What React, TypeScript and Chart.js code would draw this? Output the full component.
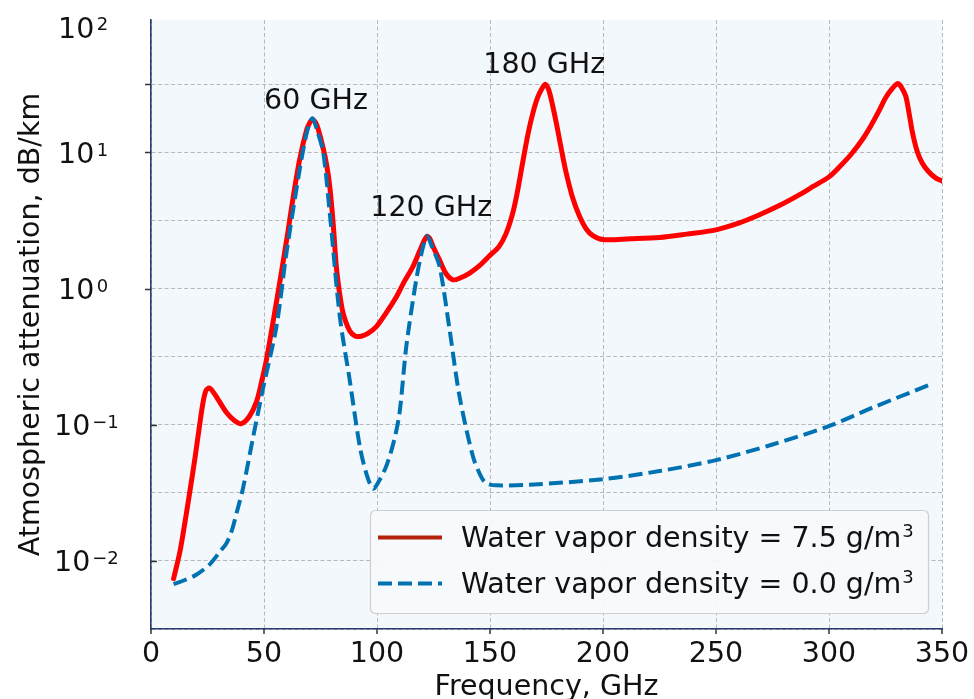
import React, { useEffect, useRef } from "react";
import { Chart, registerables } from "chart.js";

Chart.register(...registerables);

// Specific attenuation (dB/km) of the atmosphere versus frequency (GHz)
const wetFreq = [
  10, 12.8, 15, 17.2, 19.5, 21.6, 23, 24.3, 25.8, 27.5, 29.5, 33.4, 37, 40,
  43.5, 46.7, 49, 51.1, 55.5, 58, 60.7, 63, 65.8, 68.8, 70.3, 71.4, 72.8, 74,
  76.2, 77.8, 79.1, 80.6, 82, 83.5, 85, 87.9, 90.5, 93, 96, 99.7, 104, 108.6,
  112, 115.9, 119, 120.8, 122.1, 123.3, 125, 127.7, 130.5, 133.6, 137, 141,
  145.5, 149.8, 154, 157, 160, 162, 164.5, 167, 169, 171, 173, 174.6, 176,
  177.5, 179.3, 181.5, 183.7, 186.5, 189.6, 192.5, 195.5, 200, 212, 225, 237,
  250, 260, 269, 278, 287, 293, 300, 305, 310, 315, 319, 322, 325, 327.5, 330.3,
  332, 334, 335.5, 337, 339, 341.3, 344, 347, 350,
];
const wetAtten = [
  0.00741, 0.0117, 0.0191, 0.0324, 0.0575, 0.102, 0.145, 0.178, 0.186, 0.174,
  0.155, 0.123, 0.107, 0.102, 0.115, 0.148, 0.209, 0.302, 0.794, 1.41, 2.69,
  4.79, 8.91, 14.5, 16.6, 17.4, 16.6, 14.8, 10.7, 7.94, 5.62, 3.02, 1.45, 0.912,
  0.661, 0.49, 0.447, 0.447, 0.468, 0.525, 0.661, 0.871, 1.12, 1.45, 1.91, 2.24,
  2.42, 2.34, 2.0, 1.62, 1.29, 1.16, 1.2, 1.3, 1.48, 1.74, 2.04, 2.51, 3.55,
  5.01, 8.51, 14.1, 19.5, 25.1, 29.5, 31.6, 28.8, 22.9, 16.6, 10.7, 7.08, 4.68,
  3.39, 2.75, 2.45, 2.29, 2.32, 2.37, 2.51, 2.7, 3.02, 3.47, 4.07, 4.9, 5.62,
  6.61, 7.94, 9.77, 12.6, 16.2, 20.0, 25.1, 28.8, 32.0, 30.2, 25.7, 19.1, 13.8,
  10.2, 8.32, 7.24, 6.53, 6.17,
];

const dryFreq = [
  10, 15, 20.2, 26, 30.5, 33.4, 35.7, 38, 40.8, 45.2, 49.6, 55.5, 60, 65.8, 69,
  71.4, 73.5, 76.2, 79.1, 83.5, 87.9, 92.4, 95.5, 98.3, 101, 104.2, 107.5, 110,
  113, 117.4, 120, 122.1, 124.5, 127.7, 132.1, 136.5, 142.4, 146, 148.3, 152.8,
  167.5, 200, 225, 250, 275, 300, 319, 344,
];
const dryAtten = [
  0.00676, 0.00724, 0.00794, 0.00944, 0.0117, 0.0135, 0.0166, 0.0229, 0.0347,
  0.0813, 0.186, 0.525, 1.86, 7.5, 14.1, 17.8, 14.5, 10.0, 3.59, 0.631, 0.214,
  0.0692, 0.0427, 0.0339, 0.0389, 0.0501, 0.0759, 0.123, 0.38, 1.17, 1.91, 2.42,
  2.0, 1.45, 0.501, 0.162, 0.0589, 0.0417, 0.0372, 0.0359, 0.0363, 0.0398,
  0.0457, 0.055, 0.0716, 0.0977, 0.133, 0.195,
];

const vaporDensity = ["7.5", "0.0"];

const xTicks = [0, 50, 100, 150, 200, 250, 300, 350];
const yDecades = [-2, -1, 0, 1, 2];
const yGridExponents = [-2.5, -2, -1.5, -1, -0.5, 0, 0.5, 1, 1.5];

const peakLabels = ["60 GHz", "120 GHz", "180 GHz"];
const peakLabelFreq = [73, 124, 174];
const peakLabelAtten = [21, 3.4, 38];

const FONT = "'DejaVu Sans', 'Liberation Sans', sans-serif";
const TEXT_PX = 28.5;
const SUP_PX = 18;
const TEXT = "#111111";
const SPINE = "#2a3a74";
const PLOT_BG = "#f3f8fc";
const GRID = "#b8b8b8";
const WET_COLOR = "#ff0000";
const WET_LEGEND = "#b3220c";
const DRY_COLOR = "#0072b2";

function drawPower(ctx: CanvasRenderingContext2D, exp: number, x: number, baseline: number) {
  ctx.font = `${TEXT_PX}px ${FONT}`;
  ctx.textAlign = "left";
  ctx.textBaseline = "alphabetic";
  ctx.fillText("10", x, baseline);
  const w = ctx.measureText("10").width;
  ctx.font = `${SUP_PX}px ${FONT}`;
  const e = exp < 0 ? "\u2212" + Math.abs(exp) : String(exp);
  ctx.fillText(e, x + w + (exp < 0 ? 2 : 2.5), baseline - 7.3);
}

function roundRect(ctx: CanvasRenderingContext2D, x: number, y: number, w: number, h: number, r: number) {
  ctx.beginPath();
  ctx.moveTo(x + r, y);
  ctx.lineTo(x + w - r, y);
  ctx.arcTo(x + w, y, x + w, y + r, r);
  ctx.lineTo(x + w, y + h - r);
  ctx.arcTo(x + w, y + h, x + w - r, y + h, r);
  ctx.lineTo(x + r, y + h);
  ctx.arcTo(x, y + h, x, y + h - r, r);
  ctx.lineTo(x, y + r);
  ctx.arcTo(x, y, x + r, y, r);
  ctx.closePath();
}

const decorPlugin = {
  id: "decor",
  beforeDraw(chart: any) {
    const { ctx, chartArea: a } = chart;
    ctx.save();
    ctx.fillStyle = PLOT_BG;
    ctx.fillRect(a.left, a.top, a.right - a.left, a.bottom - a.top);
    ctx.restore();
  },
  afterDraw(chart: any) {
    const { ctx, chartArea: a } = chart;
    const xs = chart.scales.x;
    const ys = chart.scales.y;
    ctx.save();

    // x tick marks and labels
    ctx.strokeStyle = "#333333";
    ctx.lineWidth = 1.5;
    ctx.fillStyle = TEXT;
    ctx.font = `${TEXT_PX}px ${FONT}`;
    ctx.textAlign = "center";
    ctx.textBaseline = "alphabetic";
    for (const v of xTicks) {
      const px = xs.getPixelForValue(v);
      ctx.beginPath();
      ctx.moveTo(px, a.bottom);
      ctx.lineTo(px, a.bottom + 5);
      ctx.stroke();
      ctx.fillText(String(v), px, a.bottom + 33);
    }

    // y tick marks
    const markExps = [1.5, 1, 0, -1, -2];
    for (const e of markExps) {
      const py = Math.round(ys.getPixelForValue(Math.pow(10, e))) + 0.5;
      ctx.beginPath();
      if (e >= 0) {
        ctx.moveTo(a.left - 6, py);
        ctx.lineTo(a.left, py);
      } else {
        ctx.moveTo(a.left, py);
        ctx.lineTo(a.left + 6, py);
      }
      ctx.stroke();
    }

    // y tick labels
    ctx.fillStyle = TEXT;
    for (const d of yDecades) {
      let py = ys.getPixelForValue(Math.pow(10, d));
      if (py < a.top + 7) py = a.top + 7;
      drawPower(ctx, d, d < 0 ? 54 : 58, py + 10.5);
    }

    // axis titles
    ctx.font = `${TEXT_PX}px ${FONT}`;
    ctx.textAlign = "center";
    ctx.textBaseline = "alphabetic";
    ctx.fillText("Frequency, GHz", (a.left + a.right) / 2, a.bottom + 66);
    ctx.save();
    ctx.translate(39, (a.top + a.bottom) / 2);
    ctx.rotate(-Math.PI / 2);
    ctx.fillText("Atmospheric attenuation, dB/km", 0, 0);
    ctx.restore();

    // peak annotations
    for (let i = 0; i < peakLabels.length; i++) {
      const px = xs.getPixelForValue(peakLabelFreq[i]);
      const py = ys.getPixelForValue(peakLabelAtten[i]);
      ctx.fillText(peakLabels[i], px, py);
    }

    // legend
    const bw = 558;
    const bh = 103;
    const bx = a.right - 14 - bw;
    const by = a.bottom - 16 - bh;
    roundRect(ctx, bx + 0.5, by + 0.5, bw, bh, 5);
    ctx.fillStyle = "rgba(247,250,253,0.92)";
    ctx.fill();
    ctx.strokeStyle = "#cfcfcf";
    ctx.lineWidth = 1.2;
    ctx.stroke();

    const rows = [
      { color: WET_LEGEND, dash: [] as number[], label: vaporDensity[0] },
      { color: DRY_COLOR, dash: [14, 6], label: vaporDensity[1] },
    ];
    rows.forEach((r, i) => {
      const base = by + 36.5 + i * 46;
      const ly = base - 9;
      ctx.save();
      ctx.strokeStyle = r.color;
      ctx.lineWidth = 4;
      ctx.setLineDash(r.dash);
      ctx.beginPath();
      ctx.moveTo(bx + 8, ly);
      ctx.lineTo(bx + 72, ly);
      ctx.stroke();
      ctx.restore();
      ctx.fillStyle = TEXT;
      ctx.textAlign = "left";
      ctx.font = `${TEXT_PX}px ${FONT}`;
      const text = `Water vapor density = ${r.label} g/m`;
      ctx.fillText(text, bx + 91, base);
      const tw = ctx.measureText(text).width;
      ctx.font = `${SUP_PX}px ${FONT}`;
      ctx.fillText("3", bx + 91 + tw + 1, base - 10);
    });

    ctx.restore();
  },
};

export default function App() {
  const canvasRef = useRef<HTMLCanvasElement | null>(null);

  useEffect(() => {
    const canvas = canvasRef.current;
    if (!canvas) return;
    const wetPoints = wetFreq.map((f, i) => ({ x: f, y: wetAtten[i] }));
    const dryPoints = dryFreq.map((f, i) => ({ x: f, y: dryAtten[i] }));

    const chart = new Chart(canvas, {
      type: "line",
      data: {
        datasets: [
          {
            label: `Water vapor density = ${vaporDensity[1]} g/m³`,
            data: dryPoints,
            borderColor: DRY_COLOR,
            borderWidth: 4,
            borderDash: [14, 6],
            tension: 0.3,
            pointRadius: 0,
            fill: false,
          },
          {
            label: `Water vapor density = ${vaporDensity[0]} g/m³`,
            data: wetPoints,
            borderColor: WET_COLOR,
            borderWidth: 5,
            borderCapStyle: "round",
            borderJoinStyle: "round",
            tension: 0.3,
            pointRadius: 0,
            fill: false,
          },
        ],
      },
      options: {
        responsive: false,
        devicePixelRatio: 1,
        animation: false,
        events: [],
        layout: { padding: { top: 20, right: 32, bottom: 0, left: 0 } },
        plugins: {
          legend: { display: false },
          tooltip: { enabled: false },
        },
        scales: {
          x: {
            type: "linear",
            min: 0,
            max: 350,
            ticks: { display: false, stepSize: 50 },
            afterBuildTicks: (s: any) => {
              s.ticks = xTicks.map((v) => ({ value: v }));
            },
            afterFit: (s: any) => {
              s.height = 70;
            },
            grid: { color: GRID, lineWidth: 1, drawTicks: false },
            border: { display: true, color: SPINE, width: 1.6, dash: [4, 2.5] },
          },
          y: {
            type: "logarithmic",
            min: Math.pow(10, -2.5),
            max: 93.8,
            ticks: { display: false },
            afterBuildTicks: (s: any) => {
              s.ticks = yGridExponents.map((e) => ({ value: Math.pow(10, e) }));
            },
            afterFit: (s: any) => {
              s.width = 151;
            },
            grid: { color: GRID, lineWidth: 1, drawTicks: false },
            border: { display: true, color: SPINE, width: 1.6, dash: [4, 2.5] },
          },
        },
      },
      plugins: [decorPlugin],
    });
    return () => chart.destroy();
  }, []);

  return (
    <div style={{ position: "absolute", left: 0, top: 0, width: 974, height: 699, background: "#ffffff" }}>
      <canvas ref={canvasRef} width={974} height={699} style={{ display: "block" }} />
    </div>
  );
}
